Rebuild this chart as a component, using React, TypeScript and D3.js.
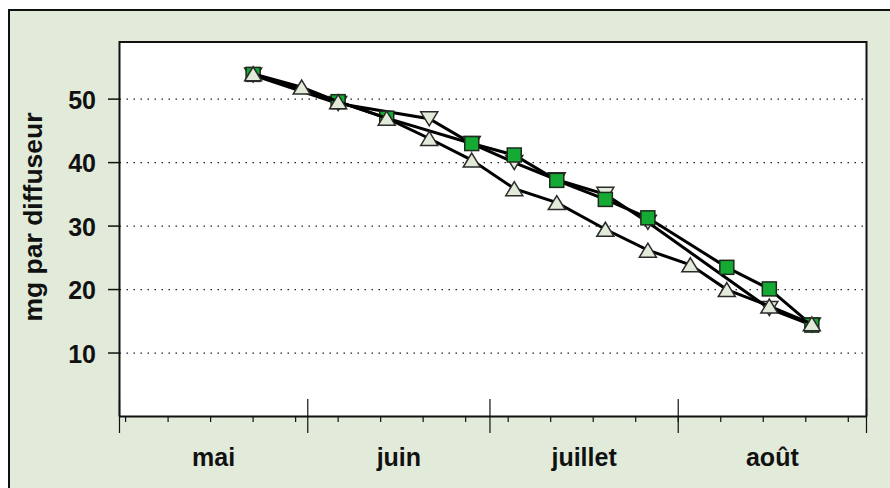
import * as d3 from 'd3';

// dates of sampling (2005) and residual mg per diffuser
const squareDates = ['2005-05-23', '2005-06-06', '2005-06-14', '2005-06-28', '2005-07-05', '2005-07-12', '2005-07-20', '2005-07-27', '2005-08-09', '2005-08-16', '2005-08-23'];
const squareValues = [53.9, 49.6, 47.0, 43.0, 41.2, 37.2, 34.2, 31.3, 23.5, 20.1, 14.4];

const upDates = ['2005-05-23', '2005-05-31', '2005-06-06', '2005-06-14', '2005-06-21', '2005-06-28', '2005-07-05', '2005-07-12', '2005-07-20', '2005-07-27', '2005-08-03', '2005-08-09', '2005-08-16', '2005-08-23'];
const upValues = [54.0, 51.9, 49.6, 47.0, 43.8, 40.4, 35.9, 33.7, 29.5, 26.2, 23.9, 20.0, 17.4, 14.6];

const downDates = ['2005-05-23', '2005-06-06', '2005-06-21', '2005-06-28', '2005-07-05', '2005-07-12', '2005-07-20', '2005-07-27', '2005-08-16', '2005-08-23'];
const downValues = [53.8, 49.3, 46.9, 43.0, 40.0, 37.3, 35.0, 30.6, 17.0, 14.4];

const yTicks = [10, 20, 30, 40, 50];
const monthLabels = ['mai', 'juin', 'juillet', 'août'];

const W = 890;
const H = 488;
const plot = { left: 119.5, right: 866.5, top: 42, bottom: 416.5 };
const BG = '#e2ebd9';
const FONT = '"Liberation Sans", Arial, sans-serif';

const parse = d3.timeParse('%Y-%m-%d');

type Pt = [Date, number];

const toPoints = (dates: string[], values: number[]): Pt[] =>
  dates.map((d, i) => [parse(d) as Date, values[i]]);

export default function App() {
  const start = new Date(2005, 4, 1);
  const end = new Date(2005, 8, 1);

  const x = d3.scaleTime().domain([start, end]).range([plot.left, plot.right]);
  const y = d3.scaleLinear().domain([0, 59]).range([plot.bottom, plot.top]);

  const line = d3
    .line<Pt>()
    .x((d) => x(d[0]))
    .y((d) => y(d[1]));

  const months = d3.timeMonth.range(start, d3.timeDay.offset(end, 1));
  const weeks = d3.timeMonday.range(start, end);

  const down = toPoints(downDates, downValues);
  const squares = toPoints(squareDates, squareValues);
  const up = toPoints(upDates, upValues);

  const tw = 17;
  const th = 14;
  const upTri = `M0,${-th / 2}L${tw / 2},${th / 2}L${-tw / 2},${th / 2}Z`;
  const downTri = `M0,${th / 2}L${tw / 2},${-th / 2}L${-tw / 2},${-th / 2}Z`;
  const sq = 14;

  return (
    <div style={{ position: 'absolute', left: 0, top: 0 }}>
      <svg width={W} height={H} style={{ display: 'block', background: '#fff' }}>
        <rect x={9} y={10} width={W + 20} height={H + 20} fill={BG} stroke="#111" strokeWidth={2} />
        <rect
          x={plot.left}
          y={plot.top}
          width={plot.right - plot.left}
          height={plot.bottom - plot.top}
          fill="#fff"
        />

        {/* horizontal dotted grid and y ticks */}
        {yTicks.map((t) => (
          <g key={t}>
            <line
              x1={plot.left}
              x2={plot.right}
              y1={y(t)}
              y2={y(t)}
              stroke="#222"
              strokeWidth={1.3}
              strokeDasharray="1.5,5.5"
            />
            <line x1={108} x2={plot.left} y1={y(t)} y2={y(t)} stroke="#111" strokeWidth={1.5} />
            <text
              x={96}
              y={y(t) + 9.5}
              textAnchor="end"
              fontFamily={FONT}
              fontWeight="bold"
              fontSize={25}
              fill="#111"
            >
              {t}
            </text>
          </g>
        ))}

        {/* plot frame */}
        <path
          d={`M${plot.left},${plot.bottom}V${plot.top}H${plot.right}V${plot.bottom}`}
          fill="none"
          stroke="#111"
          strokeWidth={2}
        />
        <line x1={plot.left} x2={plot.right} y1={plot.bottom} y2={plot.bottom} stroke="#111" strokeWidth={2} />

        {/* weekly minor ticks */}
        {weeks.map((d) => (
          <line
            key={+d}
            x1={x(d)}
            x2={x(d)}
            y1={plot.bottom}
            y2={plot.bottom + 5.5}
            stroke="#111"
            strokeWidth={1.2}
          />
        ))}

        {/* month boundaries */}
        {months.map((d) => (
          <line key={+d} x1={x(d)} x2={x(d)} y1={399} y2={433} stroke="#111" strokeWidth={1.2} />
        ))}

        {/* month labels centred in each month */}
        {monthLabels.map((m, i) => {
          const a = x(months[i]);
          const b = x(months[i + 1]);
          return (
            <text
              key={m}
              x={(a + b) / 2}
              y={465.5}
              textAnchor="middle"
              fontFamily={FONT}
              fontWeight="bold"
              fontSize={25}
              fill="#111"
            >
              {m}
            </text>
          );
        })}

        <text
          transform={`translate(42,217) rotate(-90)`}
          textAnchor="middle"
          fontFamily={FONT}
          fontWeight="bold"
          fontSize={26.5}
          fill="#111"
        >
          mg par diffuseur
        </text>

        {/* series: down triangles, squares, up triangles */}
        <path d={line(down) ?? ''} fill="none" stroke="#000" strokeWidth={3} />
        {down.map((d, i) => (
          <path
            key={i}
            d={downTri}
            transform={`translate(${x(d[0])},${y(d[1])})`}
            fill={BG}
            stroke="#2b2b2b"
            strokeWidth={1.5}
          />
        ))}

        <path d={line(squares) ?? ''} fill="none" stroke="#000" strokeWidth={3} />
        {squares.map((d, i) => (
          <rect
            key={i}
            x={x(d[0]) - sq / 2}
            y={y(d[1]) - sq / 2}
            width={sq}
            height={sq}
            fill="#15aa33"
            stroke="#1e2a1e"
            strokeWidth={1.5}
          />
        ))}

        <path d={line(up) ?? ''} fill="none" stroke="#000" strokeWidth={3} />
        {up.map((d, i) => (
          <path
            key={i}
            d={upTri}
            transform={`translate(${x(d[0])},${y(d[1])})`}
            fill={BG}
            stroke="#2b2b2b"
            strokeWidth={1.5}
          />
        ))}
      </svg>
    </div>
  );
}
